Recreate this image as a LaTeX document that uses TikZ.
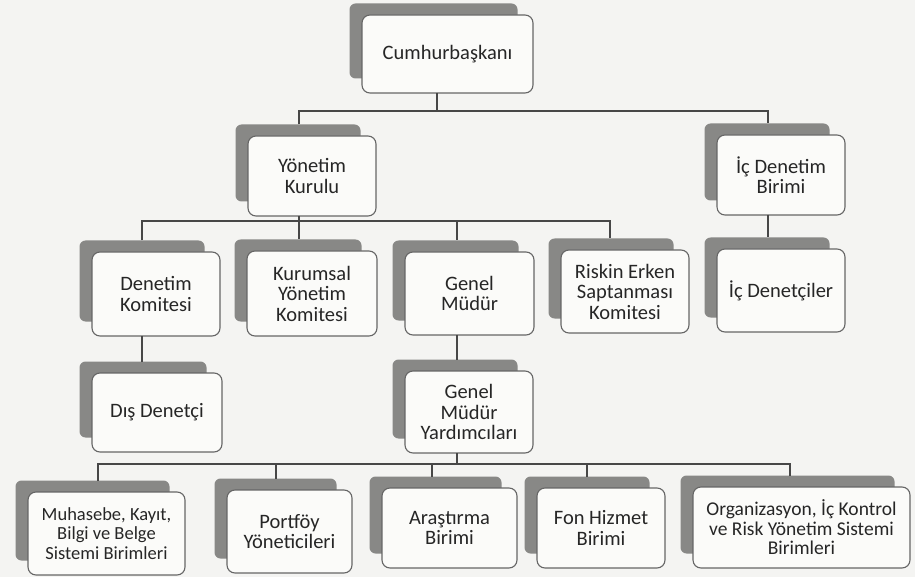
\documentclass[tikz,border=0pt]{standalone}
\usepackage{fontspec}
\setmainfont{Carlito}
\definecolor{bgc}{HTML}{F4F4F2}
\definecolor{backc}{HTML}{888886}
\definecolor{frontc}{HTML}{FBFBF9}
\definecolor{edgec}{HTML}{666666}
\definecolor{linec}{HTML}{474747}
\definecolor{txtc}{HTML}{262626}
\tikzset{
  backbox/.style={fill=backc, rounded corners=6pt, inner sep=0pt, outer sep=0pt},
  frontbox/.style={fill=frontc, draw=edgec, line width=1.1pt, rounded corners=8pt,
    inner sep=2pt, outer sep=0pt, align=center, text=txtc,
    font=\fontsize{20.5}{20.5}\selectfont},
  smallfont/.style={font=\fontsize{18.5}{19.5}\selectfont},
  midfont/.style={font=\fontsize{19.5}{19.5}\selectfont},
  conn/.style={draw=linec, line width=1.1pt}
}
\newcommand\obox[7][]{%
  \node[backbox, minimum width={(#5-#3-3)*1pt}, minimum height={(#6-#4-3)*1pt}]
    (#2b) at ({(#3+#5)/2-14},{(#4+#6)/2-13}) {};
  \node[frontbox, #1, minimum width={(#5-#3)*1pt}, minimum height={(#6-#4)*1pt}]
    (#2) at ({(#3+#5)/2},{(#4+#6)/2}) {#7};
}
\begin{document}
\begin{tikzpicture}[x=1pt,y=-1pt]
\fill[bgc] (0,0) rectangle (915,577);
\useasboundingbox (0,0) rectangle (915,577);

\obox{cb}{362}{15}{533}{93}{Cumhurbaşkanı}
\obox{yk}{248}{136}{376}{216}{Yönetim\\Kurulu}
\obox{idb}{717}{135}{845}{215}{İç Denetim\\Birimi}
\obox{dk}{92}{252}{220}{336}{Denetim\\Komitesi}
\obox{kyk}{247}{251}{377}{336}{Kurumsal\\Yönetim\\Komitesi}
\obox{gm}{405}{252}{534}{335}{Genel\\Müdür}
\obox{rest}{561}{250}{689}{333}{Riskin Erken\\Saptanması\\Komitesi}
\obox{ic}{717}{249}{845}{332}{İç Denetçiler}
\obox{dd}{92}{373}{222}{452}{Dış Denetçi}
\obox{gmy}{405}{371}{533}{453}{Genel\\Müdür\\Yardımcıları}
\obox[smallfont]{muh}{28}{492}{185}{575}{Muhasebe, Kayıt,\\Bilgi ve Belge\\Sistemi Birimleri}
\obox{port}{227}{490}{352}{573}{Portföy\\Yöneticileri}
\obox{ara}{382}{488}{517}{568}{Araştırma\\Birimi}
\obox{fon}{537}{488}{665}{568}{Fon Hizmet\\Birimi}
\obox[midfont]{org}{693}{487}{910}{568}{Organizasyon, İç Kontrol\\ve Risk Yönetim Sistemi\\Birimleri}

% buses
\coordinate (b1c) at (437,111);
\coordinate (b1l) at (299,111);
\coordinate (b1r) at (768,111);
\coordinate (b2l) at (142,221);
\coordinate (b2g) at (457,221);
\coordinate (b2r) at (610,221);
\coordinate (b3a) at (98,464);
\coordinate (b3p) at (276,464);
\coordinate (b3r) at (432,464);
\coordinate (b3g) at (457,464);
\coordinate (b3f) at (587,464);
\coordinate (b3o) at (790,464);

\draw[conn] (cb.south -| b1c) -- (b1c);
\draw[conn] (ykb.north -| b1l) -- (b1l) -- (b1r) -- (idbb.north -| b1r);
\draw[conn] (yk.south -| b1l) -- (kykb.north -| b1l);
\draw[conn] (dkb.north -| b2l) -- (b2l) -- (b2r) -- (restb.north -| b2r);
\draw[conn] (b2g) -- (gmb.north -| b2g);
\draw[conn] (idb.south -| b1r) -- (icb.north -| b1r);
\draw[conn] (dk.south -| b2l) -- (ddb.north -| b2l);
\draw[conn] (gm.south -| b2g) -- (gmyb.north -| b2g);
\draw[conn] (muhb.north -| b3a) -- (b3a) -- (b3o) -- (orgb.north -| b3o);
\draw[conn] (gmy.south -| b3g) -- (b3g);
\draw[conn] (b3p) -- (portb.north -| b3p);
\draw[conn] (b3r) -- (arab.north -| b3r);
\draw[conn] (b3f) -- (fonb.north -| b3f);
\end{tikzpicture}
\end{document}
